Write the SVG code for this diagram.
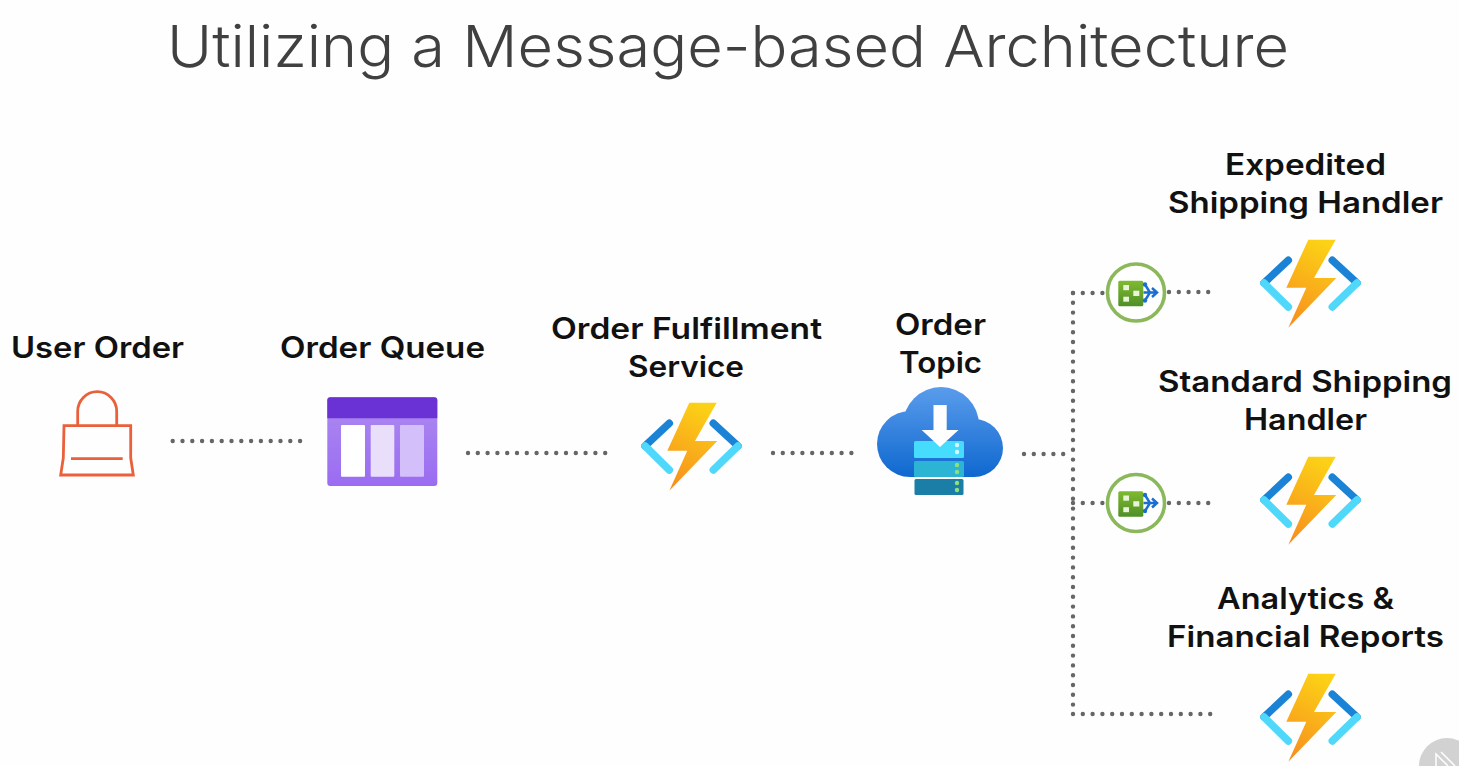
<svg xmlns="http://www.w3.org/2000/svg" width="1459" height="766" viewBox="0 0 1459 766">
<style>
.t{font-family:"Inter","Liberation Sans",sans-serif;font-weight:600;font-size:29.500px;fill:#111;text-anchor:middle}
.title{font-family:"Inter","Liberation Sans",sans-serif;font-weight:300;font-size:58px;fill:#404040}
.dots{fill:none;stroke:#666;stroke-width:4.400;stroke-linecap:round;stroke-dasharray:0 9.800}
.bag{fill:none;stroke:#e9603a;stroke-width:2.800}
</style>
<defs>
<linearGradient id="bolt" x1="0.6" y1="0" x2="0.3" y2="1"><stop offset="0" stop-color="#fcd116"/><stop offset="1" stop-color="#f7901e"/></linearGradient>
<linearGradient id="cloud" gradientUnits="userSpaceOnUse" x1="0" y1="387" x2="0" y2="477"><stop offset="0" stop-color="#5a9cec"/><stop offset="1" stop-color="#0f68cf"/></linearGradient>
<linearGradient id="queue" x1="0" y1="0" x2="0" y2="1"><stop offset="0" stop-color="#ad8af0"/><stop offset="1" stop-color="#9a6cf2"/></linearGradient>
<linearGradient id="green" x1="0" y1="0" x2="0" y2="1"><stop offset="0" stop-color="#7fba2f"/><stop offset="1" stop-color="#4f8f28"/></linearGradient>
<g id="fn">
<path d="M-21.700-23.700L-46-1" fill="none" stroke="#1b83d6" stroke-width="7.500" stroke-linecap="round"/>
<path d="M-46-1L-21.700 23" fill="none" stroke="#50d8fb" stroke-width="7.500" stroke-linecap="round"/>
<path d="M22.300-23.700L47-1" fill="none" stroke="#1b83d6" stroke-width="7.500" stroke-linecap="round"/>
<path d="M47-1L22.300 23" fill="none" stroke="#50d8fb" stroke-width="7.500" stroke-linecap="round"/>
<path d="M25.700-44.300H-1.700L-23.700 3.700H-3.700L-21.700 43.700L26.300-6H4Z" fill="url(#bolt)"/>
</g>
<g id="flt">
<circle cx="0" cy="0" r="28.500" fill="#fff" stroke="#8ab85a" stroke-width="3.600"/>
<rect x="-17.700" y="-11.700" width="25" height="25.400" rx="1.500" fill="url(#green)"/>
<rect x="-12.700" y="-7.500" width="5.700" height="5.200" fill="#e8f3d8"/><rect x="-2.700" y="-1.800" width="6" height="5.300" fill="#e8f3d8"/><rect x="-12.700" y="4.200" width="5.700" height="5" fill="#e8f3d8"/>
<path d="M9-8L14 0L9 8M7.500 0H20M16-4.500L21 0L16 4.500" fill="none" stroke="#1a6fd0" stroke-width="2.500"/>
<circle cx="9" cy="-8" r="2.200" fill="#1a6fd0"/><circle cx="9" cy="8" r="2.200" fill="#1a6fd0"/>
</g>
</defs>
<rect width="1459" height="766" fill="#fefefe"/>
<text class="title" x="167" y="67" textLength="1122" lengthAdjust="spacingAndGlyphs">Utilizing a Message-based Architecture</text>
<g id="connectors">
<path class="dots" d="M172.700 441H300.100"/>
<path class="dots" d="M468 453H606"/>
<path class="dots" d="M773 453H852"/>
<path class="dots" d="M1024 454H1073"/>
<path class="dots" d="M1073 293V714"/>
<path class="dots" d="M1073 293H1104"/>
<path class="dots" d="M1169 292H1208.300"/>
<path class="dots" d="M1073 503H1104"/>
<path class="dots" d="M1169 503H1208.300"/>
<path class="dots" d="M1073 714H1211"/>
</g>
<g id="user-order">
<text class="t" x="97.500" y="358" textLength="173" lengthAdjust="spacingAndGlyphs">User Order</text>
<path class="bag" d="M64 425.700H130.700V458L133.300 475H60.700L63.300 458ZM71 458.700H122.700M77.700 425.700V411.200A19.500 19.500 0 0 1 116.700 411.200V425.700"/>
</g>
<g id="order-queue">
<text class="t" x="382.500" y="358" textLength="205" lengthAdjust="spacingAndGlyphs">Order Queue</text>
<rect x="327.300" y="397.300" width="110" height="88.700" rx="3" fill="url(#queue)"/>
<path d="M327.300 418.300V400.300a3 3 0 0 1 3-3H434.300a3 3 0 0 1 3 3V418.300Z" fill="#6a32d4"/>
<rect x="341" y="425" width="24" height="51.700" rx="1" fill="#fff"/>
<rect x="370.700" y="425" width="23.600" height="51.700" rx="1" fill="#e9dffb"/>
<rect x="400" y="425" width="24" height="51.700" rx="1" fill="#d3bffa"/>
</g>
<g id="order-fulfillment-service">
<text class="t" x="686.500" y="339" textLength="271" lengthAdjust="spacingAndGlyphs">Order Fulfillment</text>
<text class="t" x="686" y="377" textLength="116" lengthAdjust="spacingAndGlyphs">Service</text>
<use href="#fn" x="691" y="447"/>
</g>
<g id="order-topic">
<text class="t" x="940.500" y="335" textLength="91" lengthAdjust="spacingAndGlyphs">Order</text>
<text class="t" x="940.500" y="373" textLength="83" lengthAdjust="spacingAndGlyphs">Topic</text>
<g fill="url(#cloud)"><circle cx="941" cy="425" r="38"/><circle cx="910" cy="444" r="33"/><circle cx="974" cy="448" r="29"/><rect x="910" y="430" width="64" height="47"/></g>
<rect x="914" y="441" width="50" height="17" rx="1.500" fill="#45dcfd"/>
<rect x="914" y="461" width="50" height="16" rx="1.500" fill="#2cb4d4"/>
<rect x="914.500" y="479" width="49" height="16" rx="1.500" fill="#1b7ea6"/>
<path d="M933.500 405H946.700V430H958.500L940 447L921.700 430H933.500Z" fill="#fff"/>
<g fill="#d8f8ff"><circle cx="957" cy="445" r="2.200"/><circle cx="957" cy="452" r="2.200"/></g>
<g fill="#8fe07a"><circle cx="957" cy="465" r="2.200"/><circle cx="957" cy="472" r="2.200"/><circle cx="957" cy="483" r="2.200"/><circle cx="957" cy="490" r="2.200"/></g>
</g>
<g id="expedited-filter"><use href="#flt" x="1136" y="292.500"/></g>
<g id="standard-filter"><use href="#flt" x="1136" y="503"/></g>
<g id="expedited-shipping-handler">
<text class="t" x="1305.500" y="175" textLength="161" lengthAdjust="spacingAndGlyphs">Expedited</text>
<text class="t" x="1305.500" y="213" textLength="275" lengthAdjust="spacingAndGlyphs">Shipping Handler</text>
<use href="#fn" x="1310" y="284"/>
</g>
<g id="standard-shipping-handler">
<text class="t" x="1305" y="392" textLength="294" lengthAdjust="spacingAndGlyphs">Standard Shipping</text>
<text class="t" x="1305.500" y="430" textLength="123" lengthAdjust="spacingAndGlyphs">Handler</text>
<use href="#fn" x="1310" y="501"/>
</g>
<g id="analytics-financial-reports">
<text class="t" x="1305.500" y="609" textLength="177" lengthAdjust="spacingAndGlyphs">Analytics &amp;</text>
<text class="t" x="1305.500" y="647" textLength="277" lengthAdjust="spacingAndGlyphs">Financial Reports</text>
<use href="#fn" x="1310" y="718"/>
</g>
<g id="watermark">
<circle cx="1447" cy="766" r="28" fill="#d2d2d2"/>
<path d="M1436 766V754L1448 766M1441 752L1455 766" fill="none" stroke="#fff" stroke-width="1.500"/>
</g>
</svg>
